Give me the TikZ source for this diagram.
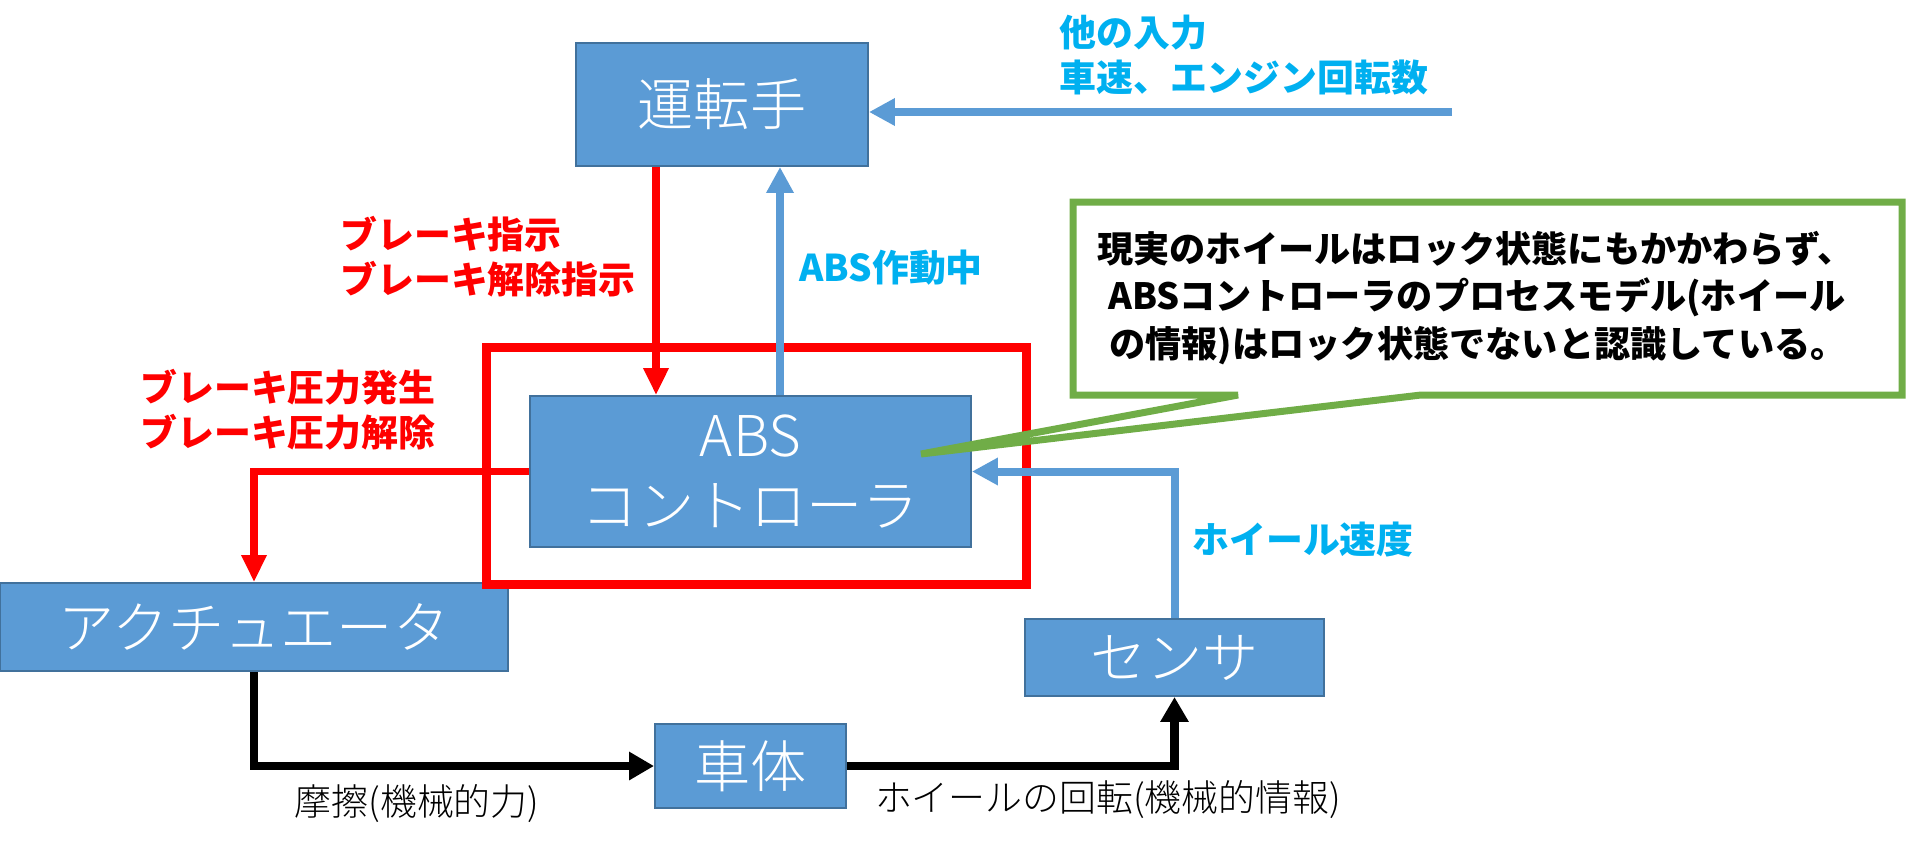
\documentclass[tikz,border=0pt]{standalone}
\usepackage{fontspec}
\setmainfont{Noto Sans CJK JP}
\newfontfamily\jplight{Noto Sans CJK JP Light}
\usetikzlibrary{arrows.meta}
\definecolor{boxblue}{HTML}{5B9BD5}
\definecolor{boxedge}{HTML}{41719C}
\definecolor{textblue}{HTML}{00B0F0}
\definecolor{notegreen}{HTML}{70AD47}
\definecolor{alarmred}{HTML}{FF0000}

\begin{document}
\begin{tikzpicture}[x=0.02cm, y=-0.02cm,
    blk/.style={draw=boxedge, line width=0.04cm, fill=boxblue, text=white, align=center, inner sep=0pt, font=\jplight\fontsize{32}{40}\selectfont},
    lbl/.style={anchor=west, align=left, inner sep=0pt, font=\bfseries\fontsize{21}{25.5}\selectfont},
    redlbl/.style={lbl, text=alarmred},
    bluelbl/.style={lbl, text=textblue, font=\bfseries\fontsize{21}{26}\selectfont},
    plainlbl/.style={inner sep=0pt, font=\jplight\fontsize{21}{25.5}\selectfont},
    redarr/.style={draw=alarmred, line width=0.15cm, -{Triangle[length=0.54cm, width=0.48cm]}},
    bluearr/.style={draw=boxblue, line width=0.16cm, -{Triangle[length=0.52cm, width=0.52cm]}},
    blackarr/.style={draw=black, line width=0.17cm, -{Triangle[length=0.5cm, width=0.54cm]}}]
    \useasboundingbox (0,0) rectangle (1908,853);

    \node[blk, minimum width=5.84cm, minimum height=2.46cm] (driver) at (722,104.5) {運転手};
    \node[blk, minimum width=8.82cm, minimum height=3.02cm] (abs) at (750.5,471.5) {ABS\\コントローラ};
    \node[blk, minimum width=10.16cm, minimum height=1.76cm] (act) at (254,627) {アクチュエータ};
    \node[blk, minimum width=3.82cm, minimum height=1.68cm] (body) at (750.5,766) {車体};
    \node[blk, minimum width=5.98cm, minimum height=1.54cm] (sensor) at (1174.5,657.5) {センサ};

    \coordinate (redx) at (656,0);
    \coordinate (bluex) at (780,0);
    \coordinate (other) at (1452,112);
    \coordinate (tip) at (921,454);

    \draw[alarmred, line width=0.18cm] (486,347) rectangle (1026,584);

    \draw[redarr] (driver.south -| redx) -- (abs.north -| redx);
    \draw[bluearr] (abs.north -| bluex) -- (driver.south -| bluex);
    \draw[bluearr] (other) -- (other -| driver.east);
    \draw[redarr] (abs.west) -| (act.north);
    \draw[blackarr] (act.south) |- (body.west);
    \draw[blackarr] (body.east) -| (sensor.south);
    \draw[bluearr] (sensor.north) |- (abs.east);

    \node[redlbl] (cmd) at (340,256.5) {ブレーキ指示\\ブレーキ解除指示};
    \node[redlbl] (press) at (140,410) {ブレーキ圧力発生\\ブレーキ圧力解除};
    \node[bluelbl] (active) at (799,268) {ABS作動中};
    \node[bluelbl] (others) at (1059,55) {他の入力\\車速、エンジン回転数};
    \node[bluelbl] (wspeed) at (1192,540) {ホイール速度};
    \node[plainlbl] (friction) at (417,804) {摩擦(機械的力)};
    \node[plainlbl] (rotation) at (1108,800) {ホイールの回転(機械的情報)};

    \draw[notegreen, line width=0.14cm, fill=white] (1073,202) -- (1902,202) -- (1902,395) -- (1421,395) -- (tip) -- (1238,395) -- (1073,395) -- cycle;
    \node[lbl, font=\bfseries\fontsize{20.6}{23}\selectfont] (note) at (1097,298) {現実のホイールはロック状態にもかかわらず、\\[4pt]\hspace*{0.22cm}ABSコントローラのプロセスモデル(ホイール\\[4pt]\hspace*{0.24cm}の情報)はロック状態でないと認識している。};
\end{tikzpicture}
\end{document}
